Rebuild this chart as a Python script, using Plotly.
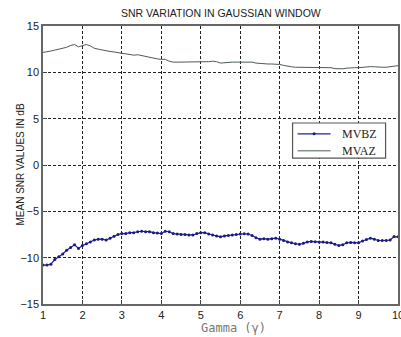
import plotly.graph_objects as go

# Gamma grid (step 0.1 from 1 to 10)
gamma = [round(1.0 + 0.1 * i, 1) for i in range(91)]

# Mean SNR (dB) for MVBZ
mvbz = [
    -10.8, -10.8, -10.7, -10.2, -9.9, -9.6, -9.2, -8.9, -8.6, -9.0,
    -8.7, -8.5, -8.3, -8.1, -8.0, -8.0, -8.1, -7.9, -7.7, -7.5,
    -7.4, -7.4, -7.3, -7.3, -7.2, -7.15, -7.2, -7.2, -7.3, -7.35,
    -7.4, -7.15, -7.2, -7.4, -7.45, -7.5, -7.5, -7.55, -7.55, -7.4,
    -7.3, -7.3, -7.45, -7.55, -7.65, -7.75, -7.65, -7.6, -7.55, -7.5,
    -7.45, -7.42, -7.45, -7.6, -7.85, -8.0, -7.95, -8.0, -7.95, -7.9,
    -8.0, -8.15, -8.3, -8.4, -8.5, -8.55, -8.45, -8.3, -8.25, -8.28,
    -8.3, -8.32, -8.35, -8.4, -8.55, -8.7, -8.6, -8.4, -8.35, -8.4,
    -8.4, -8.2, -8.05, -7.9, -8.0, -8.15, -8.15, -8.15, -8.1, -7.72,
    -7.75,
]

# Mean SNR (dB) for MVAZ
mvaz = [
    12.15, 12.2, 12.3, 12.4, 12.5, 12.6, 12.7, 12.9, 13.0, 12.75,
    12.85, 13.0, 12.85, 12.6, 12.5, 12.4, 12.35, 12.25, 12.2, 12.1,
    12.05, 12.0, 11.9, 11.85, 11.9, 11.8, 11.75, 11.6, 11.5, 11.45,
    11.4, 11.4, 11.2, 11.1, 11.1, 11.1, 11.1, 11.1, 11.1, 11.1,
    11.1, 11.1, 11.15, 11.2, 11.15, 11.0, 11.05, 11.1, 11.1, 11.1,
    11.1, 11.1, 11.1, 11.1, 11.0, 10.95, 10.95, 10.9, 10.9, 10.9,
    10.85, 10.75, 10.65, 10.6, 10.55, 10.55, 10.55, 10.55, 10.55, 10.55,
    10.55, 10.55, 10.55, 10.5, 10.4, 10.35, 10.38, 10.45, 10.5, 10.5,
    10.5, 10.55, 10.6, 10.62, 10.6, 10.55, 10.55, 10.55, 10.6, 10.7,
    10.72,
]

series_names = ["MVBZ", "MVAZ"]
x_ticks = list(range(1, 11))
y_ticks = [-15, -10, -5, 0, 5, 10, 15]

BLUE_LINE = "#22229a"
BLUE_MARK = "#1a1a80"
GRAY_LINE = "#4d5c4d"

fig = go.Figure()
fig.add_trace(go.Scatter(
    x=gamma, y=mvbz, name=series_names[0], mode="lines+markers",
    line=dict(color=BLUE_LINE, width=1.2),
    marker=dict(color=BLUE_MARK, size=3),
    showlegend=False,
))
fig.add_trace(go.Scatter(
    x=gamma, y=mvaz, name=series_names[1], mode="lines",
    line=dict(color=GRAY_LINE, width=1),
    showlegend=False,
))

axis_common = dict(
    showline=True, mirror=True, linecolor="#666666", linewidth=1.5,
    ticks="inside", ticklen=4, tickcolor="#444444",
    showgrid=True, gridcolor="#222222", gridwidth=1, griddash="3px,2px",
    zeroline=False, ticklabeloverflow="allow", automargin=False,
    tickfont=dict(family="Liberation Sans, Arial", size=11, color="#222222"),
)

fig.update_xaxes(range=[1, 10], tickvals=x_ticks, **axis_common)
fig.update_yaxes(range=[-15, 15], tickvals=y_ticks, **axis_common)

# Boxed legend in the upper-right part of the axes (paper coordinates)
box = dict(x0=0.703, x1=0.965, y0=0.525, y1=0.651)
rows_y = [0.612, 0.551]
sample_x = (0.717, 0.810)
label_x = 0.838

shapes = [dict(type="rect", xref="paper", yref="paper", layer="above",
               fillcolor="white", line=dict(color="#555555", width=1.2), **box)]
shapes.append(dict(type="line", xref="paper", yref="paper", layer="above",
                   x0=sample_x[0], x1=sample_x[1], y0=rows_y[0], y1=rows_y[0],
                   line=dict(color=BLUE_LINE, width=1.2)))
shapes.append(dict(type="circle", xref="paper", yref="paper", layer="above",
                   xsizemode="pixel", ysizemode="pixel",
                   xanchor=(sample_x[0] + sample_x[1]) / 2, yanchor=rows_y[0],
                   x0=-1.5, x1=1.5, y0=-1.5, y1=1.5,
                   fillcolor=BLUE_MARK, line=dict(color=BLUE_MARK, width=0)))
shapes.append(dict(type="line", xref="paper", yref="paper", layer="above",
                   x0=sample_x[0], x1=sample_x[1], y0=rows_y[1], y1=rows_y[1],
                   line=dict(color=GRAY_LINE, width=1)))

annotations = [
    dict(text="SNR VARIATION IN GAUSSIAN WINDOW", xref="paper", yref="paper",
         x=0.5, y=1, yshift=13, showarrow=False, yanchor="middle",
         font=dict(family="Liberation Sans, Arial", size=10.5, color="#222222")),
    dict(text="MEAN SNR VALUES IN dB", xref="paper", yref="paper",
         x=0, xshift=-31, y=0.5, textangle=-90, showarrow=False,
         font=dict(family="Liberation Sans, Arial", size=10, color="#222222")),
    dict(text="Gamma (\u03b3)", xref="paper", yref="paper",
         x=0.536, y=0, yshift=-24, showarrow=False, yanchor="middle",
         font=dict(family="DejaVu Sans Mono, Liberation Mono", size=12, color="#777777")),
]
for name, ry in zip(series_names, rows_y):
    annotations.append(dict(
        text=name, xref="paper", yref="paper", x=label_x, y=ry,
        xanchor="left", yanchor="middle", showarrow=False,
        font=dict(family="Liberation Serif, Times New Roman", size=12, color="#222222"),
    ))

fig.update_layout(
    width=401, height=337,
    margin=dict(l=43, r=3, t=26, b=33, autoexpand=False),
    paper_bgcolor="white", plot_bgcolor="white",
    shapes=shapes,
    annotations=annotations,
)

fig.write_html("out.html")
